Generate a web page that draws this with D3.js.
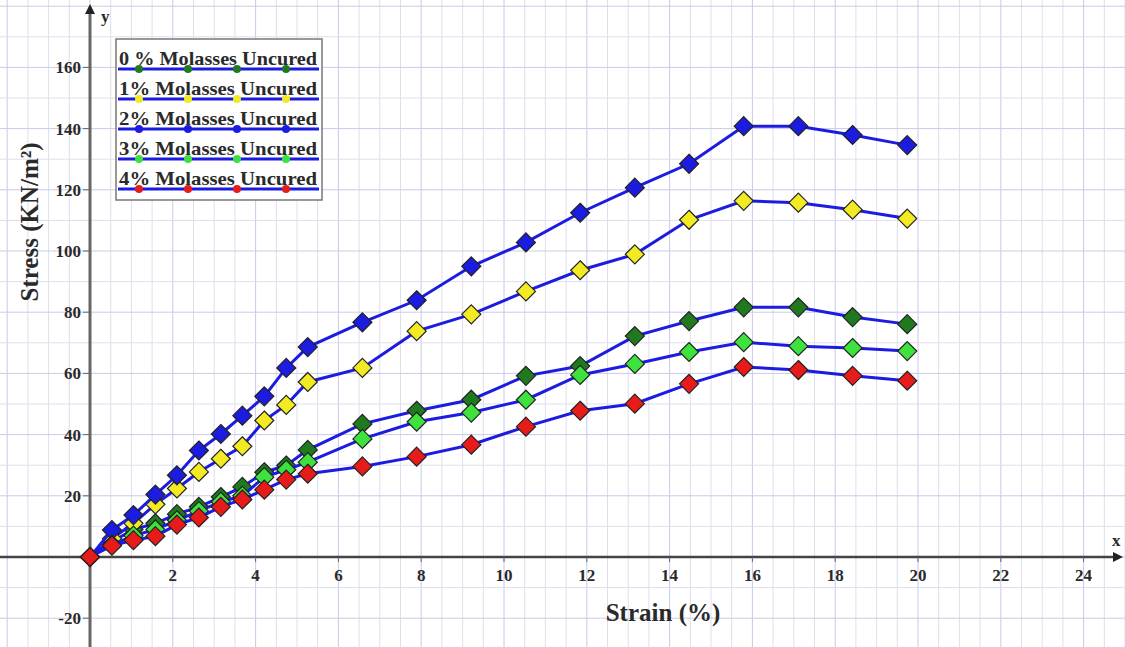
<!DOCTYPE html>
<html>
<head>
<meta charset="utf-8">
<script src="https://cdn.jsdelivr.net/npm/d3@7"></script>
<style>
  body { margin: 0; background: #fff; }
  svg { display: block; }
  text { font-family: "Liberation Serif", "Times New Roman", serif; font-weight: bold; fill: #2a2a2a; }
</style>
</head>
<body>
<svg id="chart" width="1125" height="647"></svg>
<script>
// strain (%) shared by all mixes
var strain = [0, 0.53, 1.05, 1.58, 2.1, 2.63, 3.16, 3.68, 4.21, 4.74, 5.26,
              6.58, 7.89, 9.21, 10.53, 11.84, 13.16, 14.47, 15.79, 17.11, 18.42, 19.74];

// stress (kN/m2) per mix
var stress0 = [0, 5, 9, 11, 14, 16.4, 19.6, 22.9, 27.7, 29.9, 35,
               43.5, 47.8, 51.4, 59.2, 62.4, 72.2, 77.1, 81.6, 81.6, 78.4, 76.1];
var stress1 = [0, 6, 11, 17.2, 22.4, 27.8, 32.1, 36.2, 44.6, 49.7, 57.2,
               61.8, 73.8, 79.3, 86.8, 93.7, 98.9, 110.2, 116.4, 115.8, 113.5, 110.6];
var stress2 = [0, 8.8, 13.7, 20.4, 26.7, 34.8, 40.2, 46.2, 52.5, 61.8, 68.6,
               76.7, 83.9, 95, 102.8, 112.5, 120.7, 128.5, 140.8, 140.8, 137.9, 134.6];
var stress3 = [0, 4, 7, 9, 12, 15, 18, 20, 26.1, 28.5, 31,
               38.6, 44.2, 47.2, 51.4, 59.5, 63.1, 67, 70.2, 68.9, 68.3, 67.3];
var stress4 = [0, 3.7, 5.5, 6.8, 10.6, 12.9, 16.4, 18.8, 22, 25.3, 27.2,
               29.6, 32.8, 36.7, 42.6, 47.8, 50.1, 56.6, 62.1, 61.1, 59.2, 57.6];

var seriesNames = ["0 % Molasses Uncured", "1% Molasses Uncured", "2% Molasses Uncured",
                   "3% Molasses Uncured", "4% Molasses Uncured"];
var seriesColors = ["#1f7a1f", "#f2ea22", "#1c1ce0", "#3de23d", "#e81b1b"];
var seriesValues = [stress0, stress1, stress2, stress3, stress4];

var xTicks = [2, 4, 6, 8, 10, 12, 14, 16, 18, 20, 22, 24];
var yTicks = [-20, 20, 40, 60, 80, 100, 120, 140, 160];

var W = 1125, H = 647;
var svg = d3.select("#chart");

var x = d3.scaleLinear().domain([0, 24]).range([90, 90 + 24 * 41.4]);
var y = d3.scaleLinear().domain([0, 160]).range([557, 557 - 160 * 3.06]);

// grid
var g_grid = svg.append("g");
d3.range(-2, 25.6, 0.5).forEach(function(v) {
	g_grid.append("line")
		.attr("x1", x(v)).attr("x2", x(v))
		.attr("y1", 0).attr("y2", H)
		.attr("stroke", Math.abs(v % 2) < 1e-6 ? "#c8c8ee" : "#dedeee")
		.attr("stroke-width", 1);
});
d3.range(-30, 191, 10).forEach(function(v) {
	g_grid.append("line")
		.attr("x1", 0).attr("x2", W)
		.attr("y1", y(v)).attr("y2", y(v))
		.attr("stroke", v % 20 == 0 ? "#cbcbe8" : "#dedeee")
		.attr("stroke-width", 1);
});

// axes
var g_axis = svg.append("g");
g_axis.append("line")
	.attr("x1", 0).attr("x2", W - 6)
	.attr("y1", y(0)).attr("y2", y(0))
	.attr("stroke", "#444").attr("stroke-width", 2.5);
g_axis.append("path")
	.attr("d", "M" + (W - 2) + "," + y(0) + " l-10,-5 l0,10 z")
	.attr("fill", "#222");
g_axis.append("line")
	.attr("x1", x(0)).attr("x2", x(0))
	.attr("y1", 8).attr("y2", H)
	.attr("stroke", "#666").attr("stroke-width", 3);
g_axis.append("path")
	.attr("d", "M" + x(0) + ",4 l-5,10 l10,0 z")
	.attr("fill", "#222");

g_axis.append("text").attr("x", 1112).attr("y", 546).style("font-size", "17px").text("x");
g_axis.append("text").attr("x", 101).attr("y", 22).style("font-size", "17px").text("y");

yTicks.forEach(function(v) {
	g_axis.append("line")
		.attr("x1", x(0) - 7).attr("x2", x(0))
		.attr("y1", y(v)).attr("y2", y(v))
		.attr("stroke", "#666").attr("stroke-width", 1);
	g_axis.append("text")
		.attr("x", 81).attr("y", y(v) + 6)
		.attr("text-anchor", "end")
		.style("font-size", "17px")
		.text(v);
});
xTicks.forEach(function(v) {
	g_axis.append("line")
		.attr("x1", x(v)).attr("x2", x(v))
		.attr("y1", y(0)).attr("y2", y(0) + 5)
		.attr("stroke", "#666").attr("stroke-width", 1);
	g_axis.append("text")
		.attr("x", x(v)).attr("y", y(0) + 24)
		.attr("text-anchor", "middle")
		.style("font-size", "17px")
		.text(v);
});

// axis titles
svg.append("text")
	.attr("x", 663).attr("y", 621)
	.attr("text-anchor", "middle")
	.style("font-size", "25px")
	.text("Strain (%)");
svg.append("text")
	.attr("transform", "translate(38,222) rotate(-90)")
	.attr("text-anchor", "middle")
	.style("font-size", "25px")
	.text("Stress (KN/m²)");

// series
var line = d3.line()
	.x(function(d) { return x(d[0]); })
	.y(function(d) { return y(d[1]); });
var diamond = d3.symbol().type(d3.symbolDiamond2).size(230);

seriesValues.forEach(function(vals, i) {
	var pts = strain.map(function(s, j) { return [s, vals[j]]; });
	var g = svg.append("g");
	g.append("path")
		.datum(pts)
		.attr("d", line)
		.attr("fill", "none")
		.attr("stroke", "#1c1ce0")
		.attr("stroke-width", 3);
	g.selectAll(".pt")
		.data(pts)
	.enter().append("path")
		.attr("class", "pt")
		.attr("d", diamond)
		.attr("transform", function(d) { return "translate(" + x(d[0]) + "," + y(d[1]) + ")"; })
		.attr("fill", seriesColors[i])
		.attr("stroke", "#222")
		.attr("stroke-width", 1.2);
});

// legend
var g_leg = svg.append("g");
g_leg.append("rect")
	.attr("x", 116).attr("y", 39)
	.attr("width", 206).attr("height", 161)
	.attr("fill", "#fff")
	.attr("stroke", "#777")
	.attr("stroke-width", 1.5);
seriesNames.forEach(function(name, i) {
	var ly = 69 + i * 30;
	g_leg.append("text")
		.attr("x", 119).attr("y", ly - 4)
		.style("font-size", "19px")
		.attr("textLength", 198)
		.attr("lengthAdjust", "spacingAndGlyphs")
		.text(name);
	g_leg.append("line")
		.attr("x1", 118).attr("x2", 319)
		.attr("y1", ly).attr("y2", ly)
		.attr("stroke", "#1c1ce0").attr("stroke-width", 3);
	[139, 188, 237, 286].forEach(function(cx) {
		g_leg.append("circle")
			.attr("cx", cx).attr("cy", ly)
			.attr("r", 4)
			.attr("fill", seriesColors[i]);
	});
});
</script>
</body>
</html>
